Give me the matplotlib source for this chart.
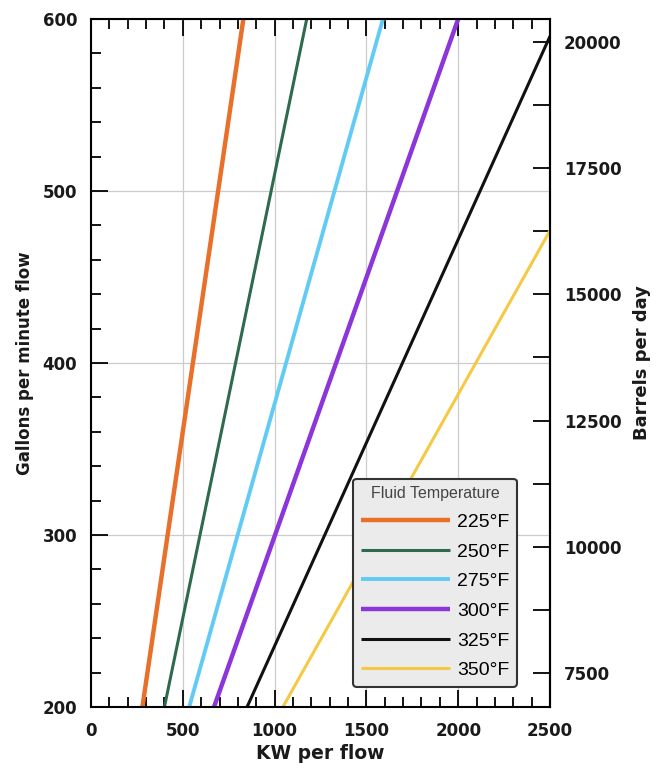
import numpy as np
import matplotlib.pyplot as plt
from matplotlib.ticker import MultipleLocator, FixedLocator

plt.rcParams['font.family'] = ['DejaVu Sans']

# endpoints: (KW at start, gpm at start), (KW at end, gpm at end)
temps = ['225°F', '250°F', '275°F', '300°F', '325°F', '350°F']
kw_start = [280, 400, 535, 670, 850, 1045]
gpm_start = [200, 200, 200, 200, 200, 200]
kw_end = [830, 1175, 1590, 2000, 2500, 2500]
gpm_end = [600, 600, 600, 600, 590, 477]
colors = ['#E8702A', '#2E6B4E', '#62CBF5', '#8B35DB', '#111111', '#F6C945']
widths = [3.2, 2.2, 2.8, 3.2, 2.2, 2.2]

bpd_ticks = [7500, 10000, 12500, 15000, 17500, 20000]
GPM_TO_BPD = 34.1  # scale of the right axis as drawn

fig = plt.figure(figsize=(6.67, 7.68), dpi=100)
ax = fig.add_axes([0.1364, 0.0794, 0.6882, 0.8959])

for i in range(len(temps)):
    ax.plot([kw_start[i], kw_end[i]], [gpm_start[i], gpm_end[i]],
            color=colors[i], lw=widths[i], label=temps[i], solid_capstyle='butt')

ax.set_xlim(0, 2500)
ax.set_ylim(200, 600)
ax.xaxis.set_major_locator(MultipleLocator(500))
ax.xaxis.set_minor_locator(MultipleLocator(100))
ax.yaxis.set_major_locator(MultipleLocator(100))
ax.yaxis.set_minor_locator(MultipleLocator(20))
ax.grid(True, which='major', color='#cccccc', lw=0.9)
ax.tick_params(axis='x', which='both', direction='in', top=True, bottom=True,
               labelsize=12, pad=11, width=1.3)
ax.tick_params(axis='y', which='both', direction='in', left=True, right=False,
               labelsize=12, pad=10, width=1.3)
ax.tick_params(which='major', length=12)
ax.tick_params(which='minor', length=7)
for lab in ax.get_xticklabels() + ax.get_yticklabels():
    lab.set_fontweight('bold')
    lab.set_color('#1a1a1a')
for sp in ax.spines.values():
    sp.set_linewidth(1.5)

ax.set_xlabel('KW per flow', fontsize=13.5, fontweight='bold', labelpad=3,
              color='#1a1a1a')
ax.set_ylabel('Gallons per minute flow', fontsize=12, fontweight='bold',
              labelpad=6, color='#1a1a1a')

sec = ax.secondary_yaxis('right', functions=(lambda g: g * GPM_TO_BPD,
                                             lambda b: b / GPM_TO_BPD))
sec.yaxis.set_major_locator(FixedLocator(bpd_ticks))
sec.yaxis.set_minor_locator(FixedLocator([t + 1250 for t in bpd_ticks[:-1]]))
sec.tick_params(which='both', direction='in', labelsize=12, width=1.3, pad=10)
sec.tick_params(which='major', length=12)
sec.tick_params(which='minor', length=12)
for lab in sec.get_yticklabels():
    lab.set_fontweight('bold')
    lab.set_color('#1a1a1a')
sec.set_ylabel('Barrels per day', fontsize=13, fontweight='bold', labelpad=8,
               color='#1a1a1a')
sec.spines['right'].set_linewidth(1.5)

leg = ax.legend(title='Fluid Temperature', loc='lower right',
                bbox_to_anchor=(0.928, 0.029), borderaxespad=0,
                prop={'family': 'Liberation Sans', 'size': 14},
                handlelength=4.6, handletextpad=0.35, labelspacing=0.62,
                frameon=True, fancybox=True, framealpha=1, borderpad=0.4)
leg.get_title().set_fontfamily('Liberation Sans')
leg.get_title().set_fontsize(11.5)
leg.get_title().set_color('#444444')
leg.get_frame().set_facecolor('#ebebeb')
leg.get_frame().set_edgecolor('#333333')
leg.get_frame().set_linewidth(1.5)

fig.savefig('out.png', dpi=100)
